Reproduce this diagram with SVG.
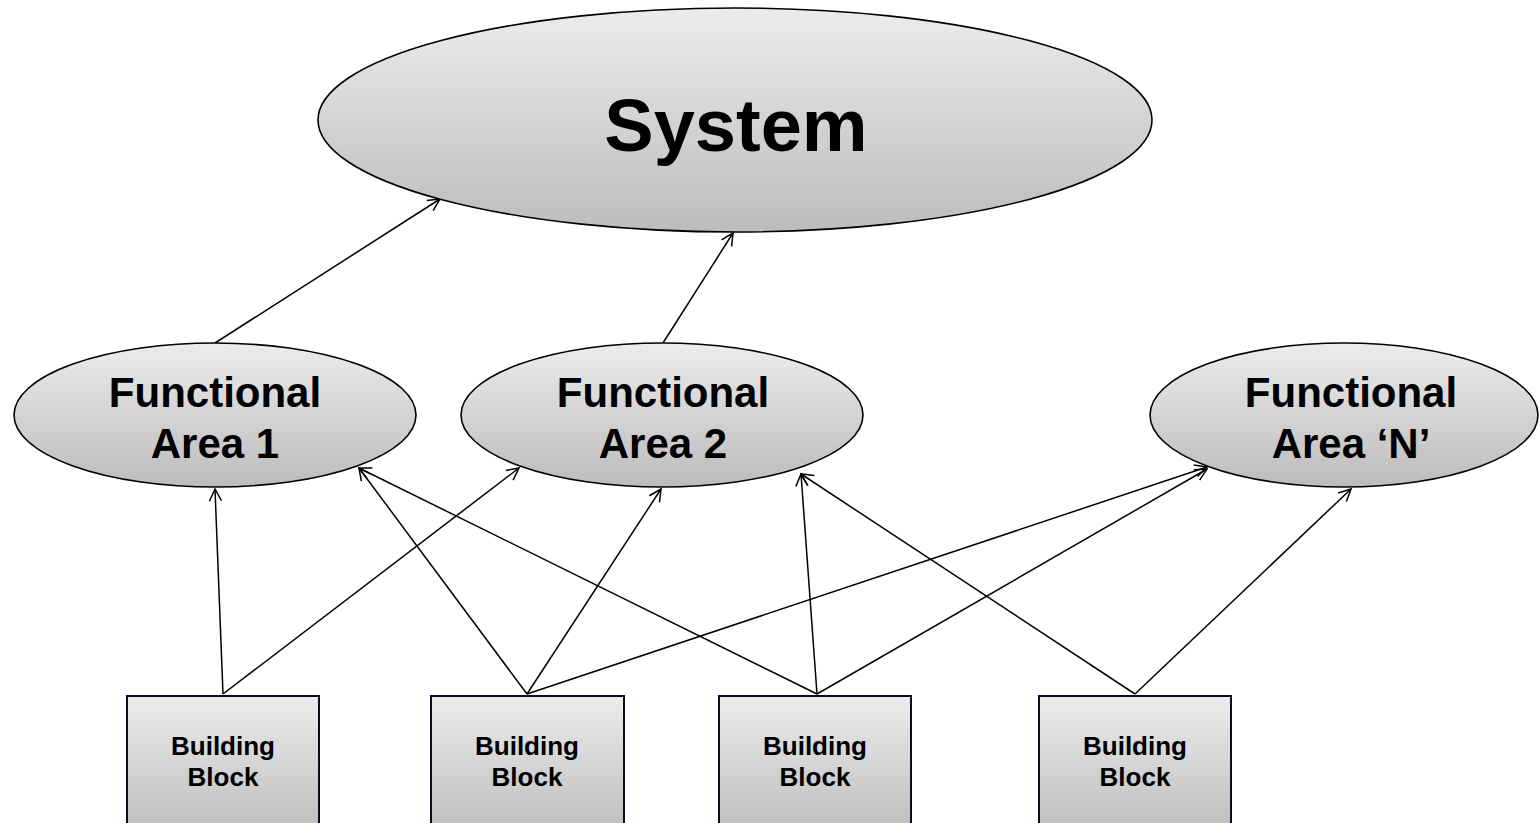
<svg xmlns="http://www.w3.org/2000/svg" width="1539" height="823" viewBox="0 0 1539 823">
  <style>
    .node { stroke: #000; stroke-width: 1.6; fill: url(#shade); }
    .block { stroke: #0b0b1c; stroke-width: 2; fill: url(#shade); }
    .label { font-family: 'Liberation Sans', Arial, sans-serif; font-weight: 700; fill: #000; text-anchor: middle; }
    .title { font-size: 74px; }
    .area { font-size: 42px; }
    .small { font-size: 26px; }
    .link { stroke: #000; stroke-width: 1.5; fill: none; marker-end: url(#open-arrow); }
  </style>
  <defs>
    <linearGradient id="shade" x1="0" y1="0" x2="0" y2="1">
      <stop offset="0" stop-color="#ececec"/>
      <stop offset="1" stop-color="#bcbcbc"/>
    </linearGradient>
    <marker id="open-arrow" viewBox="0 0 14 14" refX="13" refY="7" markerWidth="14" markerHeight="14" markerUnits="userSpaceOnUse" orient="auto">
      <path d="M1,1 L13,7 L1,13" fill="none" stroke="#000" stroke-width="1.5"/>
    </marker>
  </defs>

  <!-- connectors: lower level feeds the level above -->
  <g id="connectors">
    <line class="link" x1="215" y1="343" x2="440" y2="199"/>
    <line class="link" x1="663" y1="343" x2="733" y2="233"/>

    <line class="link" x1="223" y1="694" x2="215" y2="489"/>
    <line class="link" x1="223" y1="694" x2="519" y2="468"/>

    <line class="link" x1="527" y1="694" x2="359" y2="468"/>
    <line class="link" x1="527" y1="694" x2="661" y2="489"/>
    <line class="link" x1="527" y1="694" x2="1207" y2="467"/>

    <line class="link" x1="817" y1="694" x2="359" y2="468"/>
    <line class="link" x1="817" y1="694" x2="801" y2="474"/>
    <line class="link" x1="817" y1="694" x2="1207" y2="469"/>

    <line class="link" x1="1135" y1="694" x2="801" y2="474"/>
    <line class="link" x1="1135" y1="694" x2="1351" y2="489"/>
  </g>

  <g id="system">
    <ellipse class="node" cx="735" cy="120" rx="417" ry="112"/>
    <text class="label title" x="736" y="151">System</text>
  </g>

  <g id="area-1">
    <ellipse class="node" cx="215" cy="415" rx="201" ry="72"/>
    <text class="label area" x="215" y="407">Functional</text>
    <text class="label area" x="215" y="458">Area 1</text>
  </g>

  <g id="area-2">
    <ellipse class="node" cx="662" cy="415" rx="201" ry="72"/>
    <text class="label area" x="663" y="407">Functional</text>
    <text class="label area" x="663" y="458">Area 2</text>
  </g>

  <g id="area-n">
    <ellipse class="node" cx="1344" cy="415" rx="194" ry="72"/>
    <text class="label area" x="1351" y="407">Functional</text>
    <text class="label area" x="1351" y="458">Area ‘N’</text>
  </g>

  <g id="block-1">
    <rect class="block" x="127" y="696" width="192" height="140"/>
    <text class="label small" x="223" y="755">Building</text>
    <text class="label small" x="223" y="786">Block</text>
  </g>

  <g id="block-2">
    <rect class="block" x="431" y="696" width="193" height="140"/>
    <text class="label small" x="527" y="755">Building</text>
    <text class="label small" x="527" y="786">Block</text>
  </g>

  <g id="block-3">
    <rect class="block" x="719" y="696" width="192" height="140"/>
    <text class="label small" x="815" y="755">Building</text>
    <text class="label small" x="815" y="786">Block</text>
  </g>

  <g id="block-4">
    <rect class="block" x="1039" y="696" width="192" height="140"/>
    <text class="label small" x="1135" y="755">Building</text>
    <text class="label small" x="1135" y="786">Block</text>
  </g>
</svg>
